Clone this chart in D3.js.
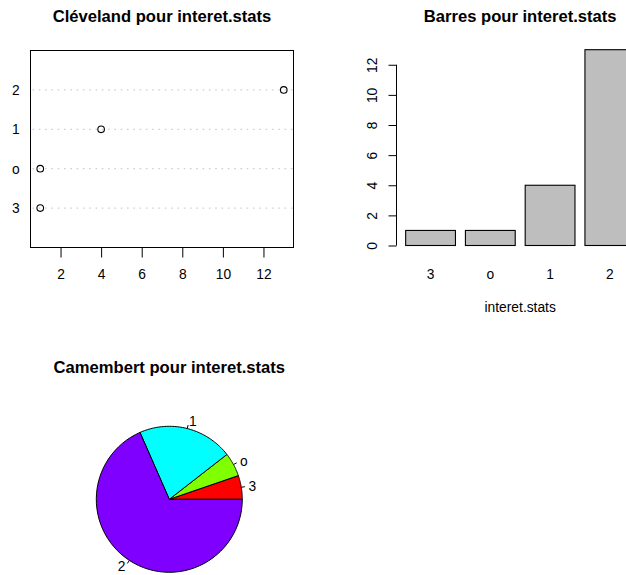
<!DOCTYPE html>
<html>
<head>
<meta charset="utf-8">
<script src="https://cdn.jsdelivr.net/npm/d3@7"></script>
<style>
  html, body { margin: 0; padding: 0; background: #fff; }
  svg { display: block; font-family: "Liberation Sans", Arial, Helvetica, sans-serif; }
  .title { font-weight: bold; font-size: 16.6px; }
  .lab { font-size: 13.8px; }
</style>
</head>
<body>
<svg id="chart" width="626" height="575"></svg>
<script>
// Frequencies of interet.stats, in table order
const categories = ["3", "o", "1", "2"];
const counts = [1, 1, 4, 13];
const xTicks = [2, 4, 6, 8, 10, 12];
const yTicksBar = [0, 2, 4, 6, 8, 10, 12];
const pieColors = ["#FF0000", "#80FF00", "#00FFFF", "#8000FF"];

const svg = d3.select("#chart");

/* ---------- Cleveland dot chart ---------- */
const dot = { left: 30.5, right: 293.5, top: 50.5, bottom: 247.5 };
const xDot = d3.scaleLinear().domain([0.52, 13.48]).range([dot.left, dot.right]);
const yDot = d3.scaleLinear().domain([0, 5]).range([dot.bottom, dot.top]);

const g1 = svg.append("g");
g1.append("text").attr("class", "title")
  .attr("x", (dot.left + dot.right) / 2).attr("y", 21.5)
  .attr("text-anchor", "middle").text("Cléveland pour interet.stats");

// guide lines for each category
g1.selectAll("line.guide").data(categories).join("line")
  .attr("class", "guide")
  .attr("x1", dot.left + 2).attr("x2", dot.right)
  .attr("y1", (d, i) => yDot(i + 1)).attr("y2", (d, i) => yDot(i + 1))
  .attr("stroke", "#CFCFCF").attr("stroke-width", 1.2)
  .attr("stroke-dasharray", "1.6,4.7");

g1.selectAll("circle").data(counts).join("circle")
  .attr("cx", d => xDot(d)).attr("cy", (d, i) => yDot(i + 1))
  .attr("r", 3.3).attr("fill", "none").attr("stroke", "#000").attr("stroke-width", 1.1);

g1.selectAll("text.cat").data(categories).join("text")
  .attr("class", "lab cat")
  .attr("x", 12).attr("y", (d, i) => yDot(i + 1)).attr("dy", "0.36em")
  .text(d => d);

g1.append("rect")
  .attr("x", dot.left).attr("y", dot.top)
  .attr("width", dot.right - dot.left).attr("height", dot.bottom - dot.top)
  .attr("fill", "none").attr("stroke", "#000");

const axX = d3.axisBottom(xDot).tickValues(xTicks).tickSize(10).tickPadding(3).tickFormat(d3.format("d"));
const gx = g1.append("g").attr("transform", `translate(0,${dot.bottom})`).call(axX);
gx.select(".domain").attr("d", `M${xDot(2)},0H${xDot(12)}`).attr("stroke", "#000");
gx.selectAll(".tick line").attr("stroke", "#000");
gx.selectAll(".tick text").attr("class", "lab").attr("font-family", null).attr("font-size", null)
  .attr("fill", "#000").attr("dy", null).attr("y", 31);

/* ---------- Bar chart ---------- */
const barW = 1, space = 0.2;
const xBar = d3.scaleLinear().domain([0.016, 4.984]).range([396.5, 643.9]);
const yBar = d3.scaleLinear().domain([0, 13]).range([245.5, 49.7]);

const g2 = svg.append("g");
g2.append("text").attr("class", "title")
  .attr("x", (xBar.range()[0] + xBar.range()[1]) / 2).attr("y", 21.5)
  .attr("text-anchor", "middle").text("Barres pour interet.stats");

g2.selectAll("rect").data(counts).join("rect")
  .attr("x", (d, i) => xBar(space + i * (barW + space)))
  .attr("width", (d, i) => xBar(space + i * (barW + space) + barW) - xBar(space + i * (barW + space)))
  .attr("y", d => yBar(d)).attr("height", d => yBar(0) - yBar(d))
  .attr("fill", "#BEBEBE").attr("stroke", "#000").attr("stroke-width", 1.1);

const axY = d3.axisLeft(yBar).tickValues(yTicksBar).tickSize(8).tickFormat(d3.format("d"));
const gy = g2.append("g").attr("transform", `translate(396.5,0)`).call(axY);
gy.select(".domain").attr("d", `M0,${yBar(0)}V${yBar(12)}`).attr("stroke", "#000");
gy.selectAll(".tick line").attr("stroke", "#000");
gy.selectAll(".tick text").attr("class", "lab").attr("font-family", null).attr("font-size", null)
  .attr("fill", "#000").attr("x", null).attr("dy", null).attr("text-anchor", "middle")
  .attr("transform", "translate(-19.8,0) rotate(-90)");

g2.selectAll("text.bname").data(categories).join("text")
  .attr("class", "lab bname")
  .attr("x", (d, i) => xBar(space + i * (barW + space) + barW / 2))
  .attr("y", 278.5).attr("text-anchor", "middle").text(d => d);

g2.append("text").attr("class", "lab")
  .attr("x", (xBar.range()[0] + xBar.range()[1]) / 2).attr("y", 311.5)
  .attr("text-anchor", "middle").text("interet.stats");

/* ---------- Pie chart ---------- */
const cx = 169.3, cy = 499.3, R = 73;
const g3 = svg.append("g");
g3.append("text").attr("class", "title")
  .attr("x", cx).attr("y", 373).attr("text-anchor", "middle")
  .text("Camembert pour interet.stats");

const total = d3.sum(counts);
// counter-clockwise from 3 o'clock; angles in standard math orientation
const angle = d3.scaleLinear().domain([0, total]).range([0, 2 * Math.PI]);
const cum = d3.cumsum([0, ...counts]);
const slices = counts.map((v, i) => ({ a0: angle(cum[i]), a1: angle(cum[i + 1]), label: categories[i], color: pieColors[i] }));

const pt = (a, r) => [cx + r * Math.cos(a), cy - r * Math.sin(a)];
function slicePath(s) {
  const n = 60;
  const pts = d3.range(n + 1).map(k => pt(s.a0 + (s.a1 - s.a0) * k / n, R));
  return "M" + cx + "," + cy + "L" + pts.map(p => p.join(",")).join("L") + "Z";
}
g3.selectAll("path").data(slices).join("path")
  .attr("d", slicePath).attr("fill", d => d.color)
  .attr("stroke", "#000").attr("stroke-width", 1).attr("stroke-linejoin", "round");

g3.selectAll("line.tick").data(slices).join("line").attr("class", "tick")
  .each(function (s) {
    const m = (s.a0 + s.a1) / 2, p1 = pt(m, R), p2 = pt(m, R * 1.05);
    d3.select(this).attr("x1", p1[0]).attr("y1", p1[1]).attr("x2", p2[0]).attr("y2", p2[1]);
  })
  .attr("stroke", "#000").attr("stroke-width", 1);

g3.selectAll("text.plab").data(slices).join("text").attr("class", "lab plab")
  .each(function (s) {
    const m = (s.a0 + s.a1) / 2, p = pt(m, R * 1.1);
    d3.select(this).attr("x", p[0]).attr("y", p[1]).attr("dy", "0.36em")
      .attr("text-anchor", Math.cos(m) < 0 ? "end" : "start");
  })
  .text(s => s.label);
</script>
</body>
</html>
